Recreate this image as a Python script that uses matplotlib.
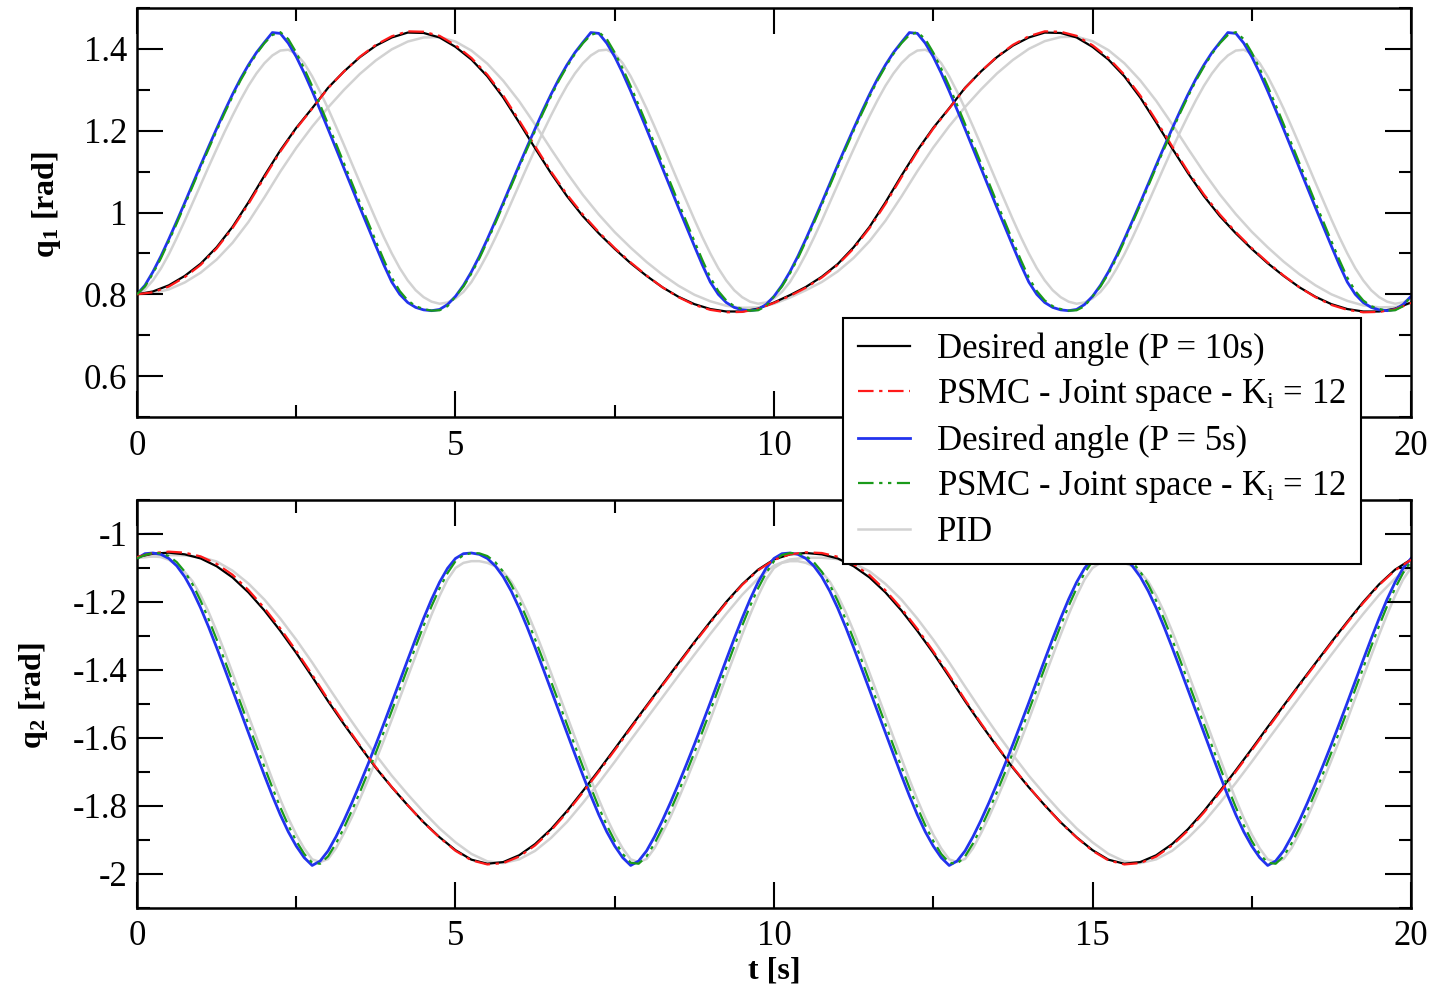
import numpy as np
import matplotlib
matplotlib.use("Agg")
import matplotlib.pyplot as plt
from matplotlib.ticker import MultipleLocator, FuncFormatter

plt.rcParams['font.family'] = ['Liberation Serif', 'DejaVu Serif']
plt.rcParams['mathtext.fontset'] = 'custom'
plt.rcParams['mathtext.rm'] = 'Liberation Serif'
plt.rcParams['mathtext.it'] = 'Liberation Serif:italic'
plt.rcParams['mathtext.bf'] = 'Liberation Serif:bold'
plt.rcParams['axes.unicode_minus'] = False

# sampling grids: 0.25 s for the P = 10 s runs, 0.125 s for the P = 5 s runs
t_slow = np.linspace(0, 20, 81)
t_fast = np.linspace(0, 20, 161)

# ---- joint 1, P = 10 s ----
q1_desired_p10 = [
    0.800, 0.807, 0.822, 0.845, 0.875, 0.915, 0.965, 1.025, 1.090, 1.152, 1.207, 1.255, 1.305, 1.345, 1.380, 1.408, 1.428, 1.440, 1.439, 1.428,
    1.405, 1.374, 1.333, 1.281, 1.220, 1.157, 1.096, 1.040, 0.991, 0.949, 0.911, 0.876, 0.845, 0.817, 0.794, 0.776, 0.764, 0.758, 0.758, 0.765,
    0.780, 0.798, 0.818, 0.843, 0.874, 0.915, 0.965, 1.025, 1.090, 1.152, 1.207, 1.255, 1.305, 1.345, 1.380, 1.408, 1.428, 1.440, 1.439, 1.428,
    1.405, 1.374, 1.333, 1.281, 1.220, 1.157, 1.096, 1.040, 0.991, 0.949, 0.911, 0.876, 0.845, 0.817, 0.794, 0.776, 0.764, 0.758, 0.758, 0.765,
    0.780]
q1_psmc_p10 = [
    0.800, 0.805, 0.819, 0.842, 0.872, 0.912, 0.962, 1.021, 1.086, 1.149, 1.205, 1.254, 1.304, 1.345, 1.381, 1.410, 1.431, 1.443, 1.442, 1.432,
    1.409, 1.378, 1.337, 1.286, 1.225, 1.162, 1.100, 1.044, 0.995, 0.952, 0.913, 0.878, 0.846, 0.817, 0.793, 0.774, 0.762, 0.756, 0.757, 0.764,
    0.779, 0.796, 0.816, 0.841, 0.872, 0.912, 0.962, 1.021, 1.086, 1.149, 1.205, 1.254, 1.304, 1.345, 1.381, 1.410, 1.431, 1.443, 1.442, 1.432,
    1.409, 1.378, 1.337, 1.286, 1.225, 1.162, 1.100, 1.044, 0.995, 0.952, 0.913, 0.878, 0.846, 0.817, 0.793, 0.774, 0.762, 0.756, 0.757, 0.763,
    0.779]
q1_pid_p10 = [
    0.800, 0.803, 0.812, 0.829, 0.853, 0.885, 0.926, 0.977, 1.037, 1.100, 1.158, 1.210, 1.257, 1.300, 1.339, 1.372, 1.399, 1.418, 1.428, 1.429,
    1.418, 1.396, 1.364, 1.322, 1.272, 1.215, 1.155, 1.097, 1.043, 0.995, 0.952, 0.914, 0.879, 0.848, 0.821, 0.799, 0.783, 0.772, 0.767, 0.768,
    0.777, 0.792, 0.810, 0.830, 0.856, 0.889, 0.930, 0.980, 1.039, 1.101, 1.159, 1.211, 1.258, 1.301, 1.340, 1.373, 1.400, 1.419, 1.429, 1.430,
    1.419, 1.397, 1.365, 1.323, 1.273, 1.216, 1.156, 1.098, 1.044, 0.996, 0.953, 0.915, 0.880, 0.849, 0.822, 0.800, 0.784, 0.773, 0.768, 0.769,
    0.778]

# ---- joint 1, P = 5 s ----
q1_desired_p5 = [
    0.800, 0.822, 0.855, 0.893, 0.935, 0.979, 1.024, 1.070, 1.116, 1.161, 1.205, 1.248, 1.289, 1.327, 1.361, 1.391, 1.416, 1.440, 1.438, 1.414,
    1.381, 1.341, 1.297, 1.251, 1.204, 1.156, 1.108, 1.060, 1.012, 0.965, 0.918, 0.872, 0.830, 0.800, 0.780, 0.768, 0.762, 0.760, 0.763, 0.775,
    0.795, 0.822, 0.855, 0.893, 0.935, 0.979, 1.024, 1.070, 1.116, 1.161, 1.205, 1.248, 1.289, 1.327, 1.361, 1.391, 1.416, 1.440, 1.438, 1.414,
    1.381, 1.341, 1.297, 1.251, 1.204, 1.156, 1.108, 1.060, 1.012, 0.965, 0.918, 0.872, 0.830, 0.800, 0.780, 0.768, 0.762, 0.760, 0.763, 0.775,
    0.795, 0.822, 0.855, 0.893, 0.935, 0.979, 1.024, 1.070, 1.116, 1.161, 1.205, 1.248, 1.289, 1.327, 1.361, 1.391, 1.416, 1.440, 1.438, 1.414,
    1.381, 1.341, 1.297, 1.251, 1.204, 1.156, 1.108, 1.060, 1.012, 0.965, 0.918, 0.872, 0.830, 0.800, 0.780, 0.768, 0.762, 0.760, 0.763, 0.775,
    0.795, 0.822, 0.855, 0.893, 0.935, 0.979, 1.024, 1.070, 1.116, 1.161, 1.205, 1.248, 1.289, 1.327, 1.361, 1.391, 1.416, 1.440, 1.438, 1.414,
    1.381, 1.341, 1.297, 1.251, 1.204, 1.156, 1.108, 1.060, 1.012, 0.965, 0.918, 0.872, 0.830, 0.800, 0.780, 0.768, 0.762, 0.760, 0.763, 0.775,
    0.795]
q1_psmc_p5 = [
    0.800, 0.819, 0.851, 0.888, 0.930, 0.974, 1.019, 1.065, 1.111, 1.156, 1.200, 1.243, 1.284, 1.323, 1.357, 1.388, 1.414, 1.434, 1.441, 1.424,
    1.391, 1.352, 1.309, 1.263, 1.216, 1.168, 1.120, 1.072, 1.024, 0.977, 0.930, 0.884, 0.841, 0.808, 0.785, 0.771, 0.764, 0.760, 0.761, 0.771,
    0.795, 0.819, 0.851, 0.888, 0.930, 0.974, 1.019, 1.065, 1.111, 1.156, 1.200, 1.243, 1.284, 1.323, 1.357, 1.388, 1.414, 1.434, 1.441, 1.424,
    1.391, 1.352, 1.309, 1.263, 1.216, 1.168, 1.120, 1.072, 1.024, 0.977, 0.930, 0.884, 0.841, 0.808, 0.785, 0.771, 0.764, 0.760, 0.761, 0.771,
    0.795, 0.819, 0.851, 0.888, 0.930, 0.974, 1.019, 1.065, 1.111, 1.156, 1.200, 1.243, 1.284, 1.323, 1.357, 1.388, 1.414, 1.434, 1.441, 1.424,
    1.391, 1.352, 1.309, 1.263, 1.216, 1.168, 1.120, 1.072, 1.024, 0.977, 0.930, 0.884, 0.841, 0.808, 0.785, 0.771, 0.764, 0.760, 0.761, 0.771,
    0.795, 0.819, 0.851, 0.888, 0.930, 0.974, 1.019, 1.065, 1.111, 1.156, 1.200, 1.243, 1.284, 1.323, 1.357, 1.388, 1.414, 1.434, 1.441, 1.424,
    1.391, 1.352, 1.309, 1.263, 1.216, 1.168, 1.120, 1.072, 1.024, 0.977, 0.930, 0.884, 0.841, 0.808, 0.785, 0.771, 0.764, 0.760, 0.761, 0.771,
    0.795]
q1_pid_p5 = [
    0.800, 0.812, 0.834, 0.863, 0.898, 0.938, 0.980, 1.024, 1.068, 1.112, 1.155, 1.197, 1.237, 1.275, 1.310, 1.340, 1.365, 1.384, 1.396, 1.398,
    1.388, 1.365, 1.333, 1.295, 1.254, 1.210, 1.165, 1.119, 1.073, 1.028, 0.983, 0.940, 0.900, 0.864, 0.834, 0.810, 0.793, 0.782, 0.777, 0.780,
    0.790, 0.806, 0.830, 0.862, 0.898, 0.938, 0.980, 1.024, 1.068, 1.112, 1.155, 1.197, 1.237, 1.275, 1.310, 1.340, 1.365, 1.384, 1.396, 1.398,
    1.388, 1.365, 1.333, 1.295, 1.254, 1.210, 1.165, 1.119, 1.073, 1.028, 0.983, 0.940, 0.900, 0.864, 0.834, 0.810, 0.793, 0.782, 0.777, 0.780,
    0.790, 0.806, 0.830, 0.862, 0.898, 0.938, 0.980, 1.024, 1.068, 1.112, 1.155, 1.197, 1.237, 1.275, 1.310, 1.340, 1.365, 1.384, 1.396, 1.398,
    1.388, 1.365, 1.333, 1.295, 1.254, 1.210, 1.165, 1.119, 1.073, 1.028, 0.983, 0.940, 0.900, 0.864, 0.834, 0.810, 0.793, 0.782, 0.777, 0.780,
    0.790, 0.806, 0.830, 0.862, 0.898, 0.938, 0.980, 1.024, 1.068, 1.112, 1.155, 1.197, 1.237, 1.275, 1.310, 1.340, 1.365, 1.384, 1.396, 1.398,
    1.388, 1.365, 1.333, 1.295, 1.254, 1.210, 1.165, 1.119, 1.073, 1.028, 0.983, 0.940, 0.900, 0.864, 0.834, 0.810, 0.793, 0.782, 0.777, 0.780,
    0.790]

# ---- joint 2, P = 10 s ----
q2_desired_p10 = [
    -1.068, -1.058, -1.055, -1.060, -1.072, -1.095, -1.128, -1.172, -1.225, -1.285, -1.350, -1.420, -1.492, -1.560, -1.625, -1.688, -1.745, -1.798, -1.848, -1.892,
    -1.930, -1.958, -1.970, -1.965, -1.945, -1.912, -1.868, -1.815, -1.756, -1.695, -1.632, -1.568, -1.505, -1.442, -1.380, -1.318, -1.258, -1.200, -1.148, -1.105,
    -1.075, -1.060, -1.056, -1.060, -1.072, -1.095, -1.128, -1.172, -1.225, -1.285, -1.350, -1.420, -1.492, -1.560, -1.625, -1.688, -1.745, -1.798, -1.848, -1.892,
    -1.930, -1.958, -1.970, -1.965, -1.945, -1.912, -1.868, -1.815, -1.756, -1.695, -1.632, -1.568, -1.505, -1.442, -1.380, -1.318, -1.258, -1.200, -1.148, -1.105,
    -1.075]
q2_psmc_p10 = [
    -1.068, -1.056, -1.052, -1.055, -1.066, -1.088, -1.120, -1.165, -1.218, -1.278, -1.344, -1.414, -1.487, -1.556, -1.622, -1.686, -1.744, -1.798, -1.849, -1.893,
    -1.932, -1.960, -1.972, -1.968, -1.949, -1.916, -1.872, -1.819, -1.760, -1.699, -1.636, -1.572, -1.508, -1.445, -1.383, -1.321, -1.261, -1.203, -1.150, -1.107,
    -1.076, -1.060, -1.054, -1.056, -1.067, -1.089, -1.121, -1.166, -1.219, -1.279, -1.345, -1.415, -1.488, -1.557, -1.623, -1.686, -1.744, -1.798, -1.849, -1.893,
    -1.932, -1.960, -1.972, -1.968, -1.949, -1.916, -1.872, -1.819, -1.760, -1.699, -1.636, -1.572, -1.508, -1.445, -1.383, -1.321, -1.261, -1.203, -1.150, -1.107,
    -1.076]
q2_pid_p10 = [
    -1.070, -1.066, -1.062, -1.063, -1.068, -1.081, -1.108, -1.146, -1.193, -1.249, -1.311, -1.378, -1.449, -1.519, -1.586, -1.650, -1.711, -1.766, -1.818, -1.866,
    -1.907, -1.941, -1.963, -1.968, -1.957, -1.932, -1.894, -1.847, -1.791, -1.732, -1.670, -1.606, -1.543, -1.480, -1.417, -1.355, -1.294, -1.235, -1.179, -1.131,
    -1.093, -1.075, -1.070, -1.070, -1.074, -1.086, -1.110, -1.147, -1.193, -1.249, -1.311, -1.378, -1.449, -1.519, -1.586, -1.650, -1.711, -1.766, -1.818, -1.866,
    -1.907, -1.941, -1.963, -1.968, -1.957, -1.932, -1.894, -1.847, -1.791, -1.732, -1.670, -1.606, -1.543, -1.480, -1.417, -1.355, -1.294, -1.235, -1.179, -1.131,
    -1.093]

# ---- joint 2, P = 5 s ----
q2_desired_p5 = [
    -1.072, -1.058, -1.056, -1.060, -1.072, -1.094, -1.126, -1.168, -1.218, -1.274, -1.334, -1.396, -1.459, -1.522, -1.585, -1.648, -1.710, -1.770, -1.826, -1.876,
    -1.918, -1.952, -1.975, -1.962, -1.932, -1.890, -1.842, -1.790, -1.735, -1.678, -1.619, -1.558, -1.496, -1.433, -1.370, -1.308, -1.248, -1.192, -1.142, -1.101,
    -1.072, -1.058, -1.056, -1.060, -1.072, -1.094, -1.126, -1.168, -1.218, -1.274, -1.334, -1.396, -1.459, -1.522, -1.585, -1.648, -1.710, -1.770, -1.826, -1.876,
    -1.918, -1.952, -1.975, -1.962, -1.932, -1.890, -1.842, -1.790, -1.735, -1.678, -1.619, -1.558, -1.496, -1.433, -1.370, -1.308, -1.248, -1.192, -1.142, -1.101,
    -1.072, -1.058, -1.056, -1.060, -1.072, -1.094, -1.126, -1.168, -1.218, -1.274, -1.334, -1.396, -1.459, -1.522, -1.585, -1.648, -1.710, -1.770, -1.826, -1.876,
    -1.918, -1.952, -1.975, -1.962, -1.932, -1.890, -1.842, -1.790, -1.735, -1.678, -1.619, -1.558, -1.496, -1.433, -1.370, -1.308, -1.248, -1.192, -1.142, -1.101,
    -1.072, -1.058, -1.056, -1.060, -1.072, -1.094, -1.126, -1.168, -1.218, -1.274, -1.334, -1.396, -1.459, -1.522, -1.585, -1.648, -1.710, -1.770, -1.826, -1.876,
    -1.918, -1.952, -1.975, -1.962, -1.932, -1.890, -1.842, -1.790, -1.735, -1.678, -1.619, -1.558, -1.496, -1.433, -1.370, -1.308, -1.248, -1.192, -1.142, -1.101,
    -1.072]
q2_psmc_p5 = [
    -1.072, -1.062, -1.056, -1.057, -1.065, -1.083, -1.111, -1.149, -1.197, -1.251, -1.310, -1.371, -1.434, -1.497, -1.560, -1.623, -1.685, -1.746, -1.804, -1.857,
    -1.903, -1.941, -1.967, -1.970, -1.948, -1.910, -1.864, -1.813, -1.759, -1.702, -1.643, -1.582, -1.520, -1.457, -1.394, -1.331, -1.270, -1.212, -1.160, -1.115,
    -1.080, -1.062, -1.056, -1.057, -1.065, -1.083, -1.111, -1.149, -1.197, -1.251, -1.310, -1.371, -1.434, -1.497, -1.560, -1.623, -1.685, -1.746, -1.804, -1.857,
    -1.903, -1.941, -1.967, -1.970, -1.948, -1.910, -1.864, -1.813, -1.759, -1.702, -1.643, -1.582, -1.520, -1.457, -1.394, -1.331, -1.270, -1.212, -1.160, -1.115,
    -1.080, -1.062, -1.056, -1.057, -1.065, -1.083, -1.111, -1.149, -1.197, -1.251, -1.310, -1.371, -1.434, -1.497, -1.560, -1.623, -1.685, -1.746, -1.804, -1.857,
    -1.903, -1.941, -1.967, -1.970, -1.948, -1.910, -1.864, -1.813, -1.759, -1.702, -1.643, -1.582, -1.520, -1.457, -1.394, -1.331, -1.270, -1.212, -1.160, -1.115,
    -1.080, -1.062, -1.056, -1.057, -1.065, -1.083, -1.111, -1.149, -1.197, -1.251, -1.310, -1.371, -1.434, -1.497, -1.560, -1.623, -1.685, -1.746, -1.804, -1.857,
    -1.903, -1.941, -1.967, -1.970, -1.948, -1.910, -1.864, -1.813, -1.759, -1.702, -1.643, -1.582, -1.520, -1.457, -1.394, -1.331, -1.270, -1.212, -1.160, -1.115,
    -1.080]
q2_pid_p5 = [
    -1.070, -1.068, -1.066, -1.068, -1.076, -1.092, -1.112, -1.140, -1.181, -1.230, -1.286, -1.346, -1.409, -1.472, -1.535, -1.598, -1.660, -1.722, -1.781, -1.836,
    -1.884, -1.925, -1.957, -1.965, -1.956, -1.924, -1.880, -1.832, -1.779, -1.724, -1.666, -1.607, -1.546, -1.483, -1.420, -1.358, -1.296, -1.237, -1.182, -1.134,
    -1.100, -1.085, -1.080, -1.080, -1.085, -1.095, -1.112, -1.140, -1.181, -1.230, -1.286, -1.346, -1.409, -1.472, -1.535, -1.598, -1.660, -1.722, -1.781, -1.836,
    -1.884, -1.925, -1.957, -1.965, -1.956, -1.924, -1.880, -1.832, -1.779, -1.724, -1.666, -1.607, -1.546, -1.483, -1.420, -1.358, -1.296, -1.237, -1.182, -1.134,
    -1.100, -1.085, -1.080, -1.080, -1.085, -1.095, -1.112, -1.140, -1.181, -1.230, -1.286, -1.346, -1.409, -1.472, -1.535, -1.598, -1.660, -1.722, -1.781, -1.836,
    -1.884, -1.925, -1.957, -1.965, -1.956, -1.924, -1.880, -1.832, -1.779, -1.724, -1.666, -1.607, -1.546, -1.483, -1.420, -1.358, -1.296, -1.237, -1.182, -1.134,
    -1.100, -1.085, -1.080, -1.080, -1.085, -1.095, -1.112, -1.140, -1.181, -1.230, -1.286, -1.346, -1.409, -1.472, -1.535, -1.598, -1.660, -1.722, -1.781, -1.836,
    -1.884, -1.925, -1.957, -1.965, -1.956, -1.924, -1.880, -1.832, -1.779, -1.724, -1.666, -1.607, -1.546, -1.483, -1.420, -1.358, -1.296, -1.237, -1.182, -1.134,
    -1.100]

labels = ['Desired angle (P = 10s)',
          r'PSMC - Joint space - K$_\mathregular{i}$ = 12',
          'Desired angle (P = 5s)',
          r'PSMC - Joint space - K$_\mathregular{i}$ = 12',
          'PID']
x_ticks = [0, 5, 10, 15, 20]

fig = plt.figure(figsize=(14.36, 9.91), dpi=100)
ax1 = fig.add_axes([0.0954, 0.5792, 0.8872, 0.4127])
ax2 = fig.add_axes([0.0954, 0.0838, 0.8872, 0.4117])

gray = '#d2d2d2'
red_dash = (0, (7, 2.5, 1.5, 2.5))
green_dash = (0, (7, 2.5, 1.5, 2.5, 1.5, 2.5))


def draw(ax, des10, psmc10, pid10, des5, psmc5, pid5):
    ax.plot(t_slow, pid10, color=gray, lw=1.8, zorder=1)
    ax.plot(t_fast, pid5, color=gray, lw=1.8, zorder=1)
    h1, = ax.plot(t_slow, des10, color='black', lw=1.6, zorder=2)
    h2, = ax.plot(t_slow, psmc10, color='#ff1a1a', lw=1.6, linestyle=red_dash, zorder=3)
    h3, = ax.plot(t_fast, des5, color='#2233ee', lw=2.0, zorder=2)
    h4, = ax.plot(t_fast, psmc5, color='#1a9a1a', lw=1.6, linestyle=green_dash, zorder=3)
    h5, = ax.plot([], [], color=gray, lw=1.8)
    return [h1, h2, h3, h4, h5]


handles = draw(ax1, q1_desired_p10, q1_psmc_p10, q1_pid_p10,
               q1_desired_p5, q1_psmc_p5, q1_pid_p5)
draw(ax2, q2_desired_p10, q2_psmc_p10, q2_pid_p10,
     q2_desired_p5, q2_psmc_p5, q2_pid_p5)

fmt = FuncFormatter(lambda v, p: '%g' % round(v, 3))
for ax in (ax1, ax2):
    ax.set_xlim(0, 20)
    ax.set_xticks(x_ticks)
    ax.xaxis.set_minor_locator(MultipleLocator(2.5))
    ax.yaxis.set_major_locator(MultipleLocator(0.2))
    ax.yaxis.set_minor_locator(MultipleLocator(0.1))
    ax.yaxis.set_major_formatter(fmt)
    ax.tick_params(which='both', direction='in', top=True, right=True, width=1.5)
    ax.tick_params(which='major', length=19, labelsize=25)
    ax.tick_params(which='minor', length=9)
    ax.tick_params(axis='x', pad=9)
    ax.tick_params(axis='y', pad=7)
    for s in ax.spines.values():
        s.set_linewidth(1.8)

# the "15" of the upper panel sits under the legend
ax1.set_xticklabels(['0', '5', '10', '', '20'])
ax2.set_xticklabels([str(v) for v in x_ticks])

ax1.set_ylim(0.5, 1.5)
ax2.set_ylim(-2.1, -0.9)

ax1.set_ylabel(r'q$_\mathregular{1}$ [rad]', fontsize=23, fontweight='bold')
ax2.set_ylabel(r'q$_\mathregular{2}$ [rad]', fontsize=23, fontweight='bold')
ax1.yaxis.set_label_coords(-0.058, 0.52)
ax2.yaxis.set_label_coords(-0.068, 0.52)
ax2.set_xlabel('t [s]', fontsize=23, fontweight='bold')
ax2.xaxis.set_label_coords(0.5, -0.118)

leg = fig.legend(handles, labels, loc='upper left', bbox_to_anchor=(0.587, 0.679),
                 fontsize=25, frameon=True, fancybox=False, edgecolor='black',
                 framealpha=1, handlelength=1.5, handletextpad=0.8,
                 labelspacing=0.32, borderpad=0.42, borderaxespad=0)
leg.get_frame().set_linewidth(1.5)

fig.savefig('out.png', dpi=100)
